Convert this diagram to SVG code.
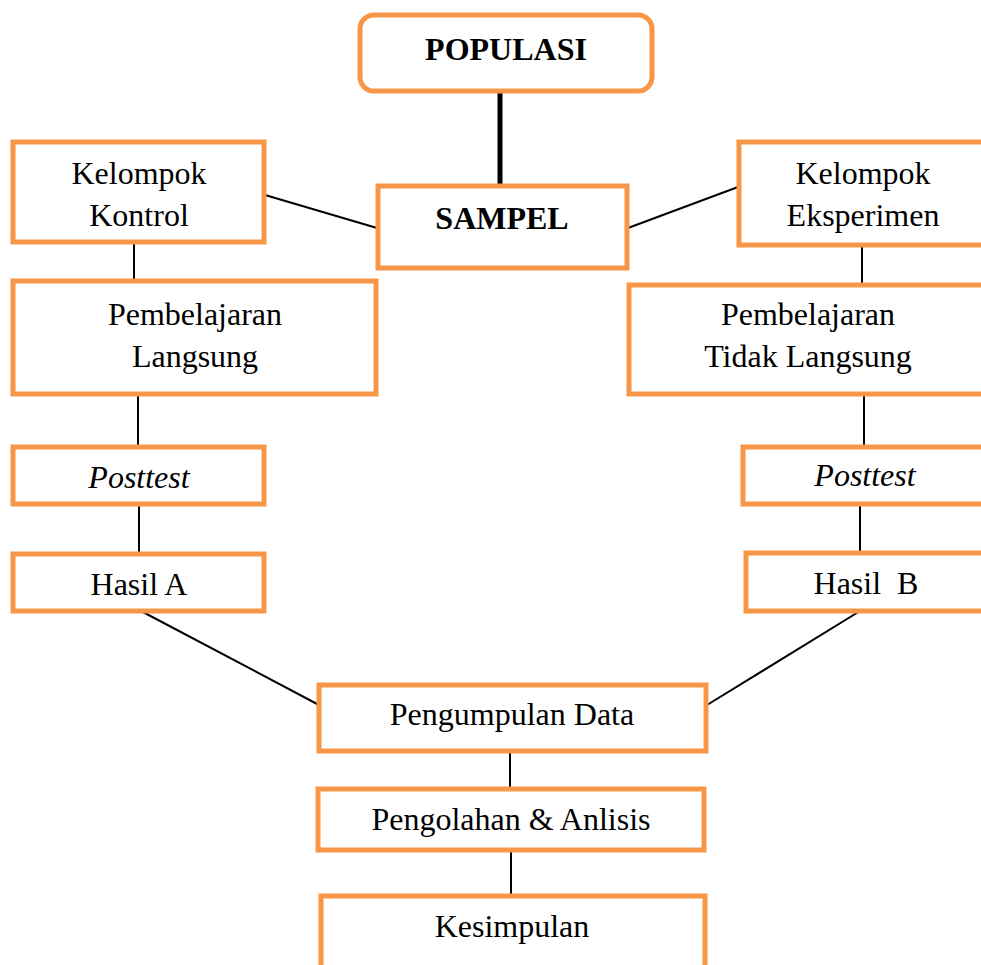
<svg xmlns="http://www.w3.org/2000/svg" width="981" height="965" viewBox="0 0 981 965">
<style>
.box{fill:#fff;stroke:#F79646;stroke-width:5}
.ln{stroke:#000;stroke-width:2;fill:none}
text{font-family:"Liberation Serif","Times New Roman",serif;font-size:32px;fill:#000;text-anchor:middle}
.b{font-weight:bold}
.i{font-style:italic}
</style>
<rect width="981" height="965" fill="#fff"/>
<g id="connectors">
<line x1="500" y1="92" x2="500" y2="185" stroke="#000" stroke-width="5"/>
<line class="ln" x1="265" y1="195" x2="377" y2="228"/>
<line class="ln" x1="628" y1="228" x2="738" y2="187"/>
<line class="ln" x1="134" y1="243" x2="134" y2="280"/>
<line class="ln" x1="138" y1="395" x2="138" y2="446"/>
<line class="ln" x1="139" y1="505" x2="139" y2="553"/>
<line class="ln" x1="141" y1="611" x2="319" y2="705"/>
<line class="ln" x1="862" y1="246" x2="862" y2="284"/>
<line class="ln" x1="864" y1="395" x2="864" y2="446"/>
<line class="ln" x1="860" y1="505" x2="860" y2="553"/>
<line class="ln" x1="860" y1="611" x2="707" y2="705"/>
<line class="ln" x1="510" y1="752" x2="510" y2="788"/>
<line class="ln" x1="511" y1="851" x2="511" y2="895"/>
</g>
<g id="populasi"><rect class="box" x="360" y="15" width="292" height="76" rx="14"/><text class="b" x="506" y="60">POPULASI</text></g>
<g id="sampel"><rect class="box" x="378" y="186" width="249" height="82"/><text class="b" x="502" y="229">SAMPEL</text></g>
<g id="kelompok-kontrol"><rect class="box" x="13" y="142" width="251" height="100"/><text x="139" y="184">Kelompok</text><text x="139" y="226">Kontrol</text></g>
<g id="kelompok-eksperimen"><rect class="box" x="739" y="142" width="260" height="103"/><text x="863" y="184">Kelompok</text><text x="863" y="226">Eksperimen</text></g>
<g id="pembelajaran-langsung"><rect class="box" x="13" y="281" width="363" height="113"/><text x="195" y="325">Pembelajaran</text><text x="195" y="367">Langsung</text></g>
<g id="pembelajaran-tidak-langsung"><rect class="box" x="629" y="285" width="370" height="109"/><text x="808" y="325">Pembelajaran</text><text x="808" y="367">Tidak Langsung</text></g>
<g id="posttest-a"><rect class="box" x="13" y="447" width="251" height="57"/><text class="i" x="139" y="488">Posttest</text></g>
<g id="posttest-b"><rect class="box" x="743" y="447" width="256" height="57"/><text class="i" x="865" y="486">Posttest</text></g>
<g id="hasil-a"><rect class="box" x="13" y="554" width="251" height="57"/><text x="139" y="595">Hasil A</text></g>
<g id="hasil-b"><rect class="box" x="746" y="553" width="253" height="58"/><text x="866" y="594" xml:space="preserve">Hasil  B</text></g>
<g id="pengumpulan-data"><rect class="box" x="319" y="685" width="387" height="66"/><text x="512" y="725">Pengumpulan Data</text></g>
<g id="pengolahan"><rect class="box" x="318" y="789" width="386" height="61"/><text x="511" y="830">Pengolahan &amp; Anlisis</text></g>
<g id="kesimpulan"><rect class="box" x="321" y="896" width="384" height="80"/><text x="512" y="937">Kesimpulan</text></g>
</svg>
